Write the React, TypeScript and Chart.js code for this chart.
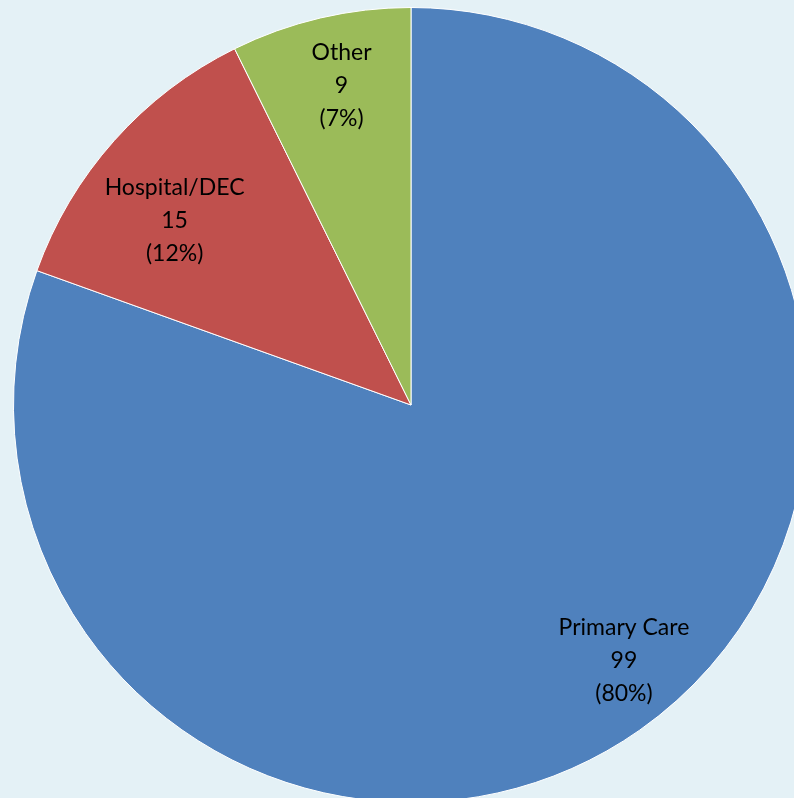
import React, { useEffect, useRef } from "react";
import { Chart, registerables } from "chart.js";

Chart.register(...registerables);

const categories = ["Primary Care", "Hospital/DEC", "Other"];
const values = [99, 15, 9];
const percentLabels = ["(80%)", "(12%)", "(7%)"];
const colors = ["#4F81BD", "#C0504D", "#9BBB59"];
// label placement nudges (px) relative to 0.8 of radius along mid-angle
const labelNudges = [
  [30, -5],
  [1, 27],
  [3, -10],
];

const BG = "#E4F1F6";

const labelPlugin = {
  id: "sliceLabels",
  afterDatasetsDraw(chart: any) {
    const ctx = chart.ctx;
    const meta = chart.getDatasetMeta(0);
    ctx.save();
    ctx.fillStyle = "#000";
    ctx.font = "23px Lato, 'Open Sans', sans-serif";
    ctx.textAlign = "center";
    ctx.textBaseline = "middle";
    meta.data.forEach((arc: any, i: number) => {
      const p = arc.getProps(["x", "y", "startAngle", "endAngle", "outerRadius"], true);
      const mid = (p.startAngle + p.endAngle) / 2;
      const r = p.outerRadius * 0.8;
      const cx = p.x + Math.cos(mid) * r + labelNudges[i][0];
      const cy = p.y + Math.sin(mid) * r + labelNudges[i][1];
      const lines = [categories[i], String(values[i]), percentLabels[i]];
      const lh = 33;
      lines.forEach((t, k) => {
        ctx.fillText(t, cx, cy + (k - 1) * lh);
      });
    });
    ctx.restore();
  },
};

export default function App() {
  const ref = useRef<HTMLCanvasElement | null>(null);
  useEffect(() => {
    const prev = document.body.style.margin;
    document.body.style.margin = "0";
    const chart = new Chart(ref.current as HTMLCanvasElement, {
      type: "pie",
      data: {
        labels: categories,
        datasets: [
          {
            data: values,
            backgroundColor: colors,
            borderColor: "#FFFFFF",
            borderWidth: 1,
          },
        ],
      },
      options: {
        responsive: false,
        animation: false,
        layout: { padding: 7 },
        plugins: {
          legend: { display: false },
          tooltip: { enabled: false },
        },
      },
      plugins: [labelPlugin],
    });
    return () => {
      chart.destroy();
      document.body.style.margin = prev;
    };
  }, []);
  return (
    <div
      style={{
        position: "fixed",
        left: 0,
        top: 0,
        width: 794,
        height: 798,
        overflow: "hidden",
        background: BG,
      }}
    >
      <canvas
        ref={ref}
        width={822}
        height={810}
        style={{ position: "absolute", left: 0, top: 0, width: 822, height: 810 }}
      />
    </div>
  );
}
